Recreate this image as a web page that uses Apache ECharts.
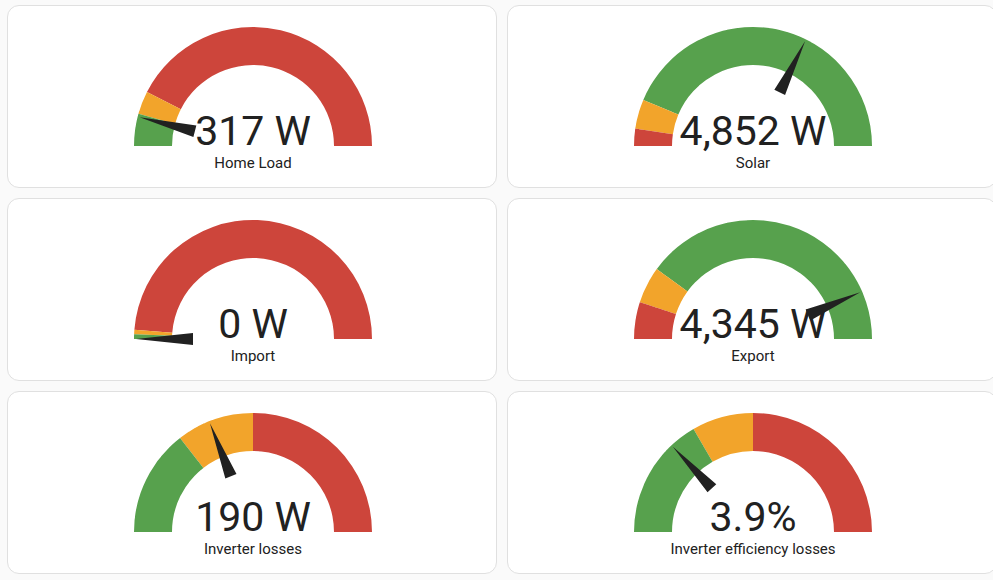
<!DOCTYPE html>
<html>
<head>
<meta charset="utf-8">
<script src="https://cdn.jsdelivr.net/npm/echarts@6/dist/echarts.min.js"></script>
<style>
  html, body { margin: 0; padding: 0; background: #fafafa; width: 993px; height: 580px; overflow: hidden; }
  .card { position: absolute; width: 490px; height: 183px; background: #fff; border: 1px solid #e0e0e0; border-radius: 12px; box-sizing: border-box; overflow: hidden; }
</style>
</head>
<body>
<div id="cards"></div>
<script>
// 数据
const names = ["Home Load", "Solar", "Import", "Export", "Inverter losses", "Inverter efficiency losses"];
const values = [317, 4852, 0, 4345, 190, 3.9];
const units = [" W", " W", " W", " W", " W", "%"];
const maxes = [4000, 7500, 4000, 5000, 500, 15];
// 分段上限（与 max 同单位）及颜色
const bands = [
  [[350, "green"], [600, "orange"], [4000, "red"]],
  [[350, "red"], [950, "orange"], [7500, "green"]],
  [[50, "green"], [100, "orange"], [4000, "red"]],
  [[500, "red"], [1000, "orange"], [5000, "green"]],
  [[145, "green"], [250, "orange"], [500, "red"]],
  [[5, "green"], [7.5, "orange"], [15, "red"]],
];
const colors = { green: "#57a14d", orange: "#f2a42b", red: "#cd453b" };

const needle = "path://M0,57 L12,57 L6,0 Z M6,117 L6.01,117 Z";

let wrap = document.getElementById("cards");
names.forEach((name, i) => {
  let div = document.createElement("div");
  div.className = "card";
  div.style.left = (7 + (i % 2) * 500) + "px";
  div.style.top = (5 + Math.floor(i / 2) * 193) + "px";
  wrap.appendChild(div);

  let chart = echarts.init(div, null, { renderer: "svg" });
  let max = maxes[i];
  chart.setOption({
    series: [{
      type: "gauge",
      center: [245, 140],
      radius: 119,
      startAngle: 180,
      endAngle: 0,
      min: 0,
      max: max,
      axisLine: {
        lineStyle: {
          width: 38,
          color: bands[i].map(b => [b[0] / max, colors[b[1]]])
        }
      },
      splitLine: { show: false },
      axisTick: { show: false },
      axisLabel: { show: false },
      anchor: { show: false },
      pointer: { icon: needle, length: 117, width: 12, itemStyle: { color: "#212121" } },
      title: { offsetCenter: [0, 17], fontSize: 15, color: "#212121", fontFamily: "Roboto" },
      detail: {
        offsetCenter: [0, -15],
        fontSize: 41,
        fontWeight: "normal",
        color: "#212121",
        fontFamily: "Roboto",
        formatter: v => v.toLocaleString("en-US") + units[i]
      },
      data: [{ value: values[i], name: name }]
    }]
  });
});
</script>
</body>
</html>
